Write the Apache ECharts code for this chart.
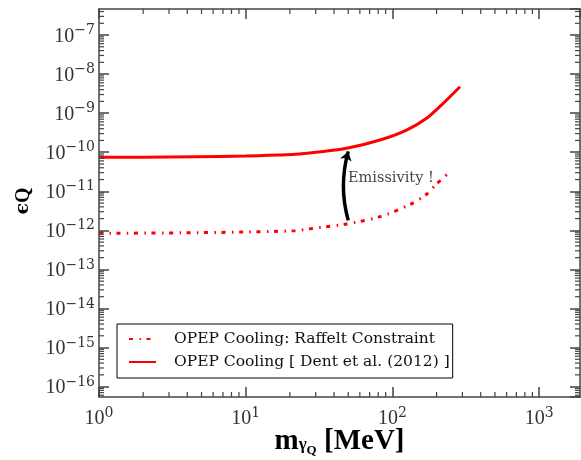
<!DOCTYPE html>
<html><head><meta charset="utf-8">
<script src="https://cdn.jsdelivr.net/npm/echarts@6/dist/echarts.min.js"></script>
<style>html,body{margin:0;padding:0;background:#fff}#c{width:581px;height:460px}</style>
</head><body><div id="c"></div>
<script>
// ---- data ----
const massDent = [1, 2, 4.5, 10, 17, 21.7, 30, 48.8, 82.3, 125, 171, 222, 289];
const epsDent = [7.4e-11, 7.45e-11, 7.7e-11, 8.0e-11, 8.5e-11, 8.85e-11, 1.0e-10, 1.26e-10, 2.06e-10, 3.7e-10, 7.4e-10, 1.79e-9, 4.75e-9];
const massRaffelt = [1, 4.5, 10, 21.7, 30, 48.8, 82.3, 132, 171, 200, 247];
const epsRaffelt = [8.4e-13, 8.7e-13, 9.1e-13, 9.8e-13, 1.15e-12, 1.46e-12, 2.24e-12, 4.6e-12, 8.4e-12, 1.54e-11, 3.17e-11];
const arrowFrom = [50, 1.8e-12];
const arrowTo = [50, 1.05e-10];
const noteMass = 49.8, noteEps = 2.15e-11, noteText = 'Emissivity !';
const xRange = [1, 1900];
const yRange = [5.42e-17, 4.64e-7];
const minorMultipliers = [2, 3, 4, 5, 6, 7, 8, 9];
const nameRaffelt = 'OPEP Cooling: Raffelt Constraint';
const nameDent = 'OPEP Cooling [ Dent et al. (2012) ]';

const SERIF = "'Liberation Serif', 'DejaVu Serif', serif";
const DSERIF = "'DejaVu Serif', serif";
const AX = '#444';

function minorValues(r) {
  const out = [];
  for (let k = Math.floor(Math.log10(r[0])); k <= Math.ceil(Math.log10(r[1])); k++) {
    minorMultipliers.forEach(m => { const v = m * Math.pow(10, k); if (v > r[0] && v < r[1]) out.push(v); });
  }
  return out;
}
function powLabel(v) {
  const e = Math.log10(v); const n = Math.round(e);
  if (Math.abs(e - n) > 1e-6) return '';
  return '{b|10}{s|' + (n < 0 ? '\u2212' + (-n) : n) + '}';
}
const labelRich = {
  b: { fontFamily: SERIF, fontSize: 20, lineHeight: 22, color: '#333', verticalAlign: 'bottom' },
  s: { fontFamily: DSERIF, fontSize: 14, color: '#333', verticalAlign: 'bottom', padding: [0, 0, 9, 0] }
};
function tickSeries(dim) {
  const vals = minorValues(dim === 'x' ? xRange : yRange);
  return {
    type: 'custom', silent: true, z: 6, clip: false, xAxisIndex: 0, yAxisIndex: 0,
    data: vals.map(v => dim === 'x' ? [v, 1e-10] : [10, v]),
    renderItem(params, api) {
      const cs = params.coordSys; const p = api.coord([api.value(0), api.value(1)]); const L = 5;
      const st = { stroke: AX, lineWidth: 1.2 };
      if (dim === 'x') {
        const x = p[0];
        return { type: 'group', children: [
          { type: 'line', shape: { x1: x, y1: cs.y + cs.height, x2: x, y2: cs.y + cs.height - L }, style: st },
          { type: 'line', shape: { x1: x, y1: cs.y, x2: x, y2: cs.y + L }, style: st }] };
      }
      const y = p[1];
      return { type: 'group', children: [
        { type: 'line', shape: { x1: cs.x, y1: y, x2: cs.x + L, y2: y }, style: st },
        { type: 'line', shape: { x1: cs.x + cs.width, y1: y, x2: cs.x + cs.width - L, y2: y }, style: st }] };
    }
  };
}
const axisCommon = {
  type: 'log', logBase: 10, nameMoveOverlap: false,
  axisLine: { show: true, lineStyle: { color: AX, width: 1.5 } },
  axisTick: { show: true, inside: true, length: 10, lineStyle: { color: AX, width: 1.5 } },
  splitLine: { show: false }, minorTick: { show: false }
};
const chart = echarts.init(document.getElementById('c'), null, { renderer: 'canvas' });
chart.setOption({
  animation: false,
  backgroundColor: '#fff',
  grid: { left: 99, right: 1, top: 9, bottom: 63, containLabel: false, outerBoundsMode: 'none' },
  xAxis: [
    Object.assign({}, axisCommon, {
      min: xRange[0], max: xRange[1], position: 'bottom',
      axisLabel: { formatter: powLabel, rich: labelRich, margin: 9, showMinLabel: true, showMaxLabel: false },
      name: '{m|m}{g|\u03b3}{q|Q}{u| [MeV]}', nameLocation: 'middle', nameGap: 30,
      nameTextStyle: { rich: {
        m: { fontFamily: SERIF, fontWeight: 'bold', fontSize: 29, lineHeight: 30, verticalAlign: 'top', padding: [0, 0, 6, 0], color: '#000' },
        g: { fontFamily: SERIF, fontWeight: 'bold', fontSize: 17, lineHeight: 16, verticalAlign: 'bottom', padding: [0, 0, 4, 0], color: '#000' },
        q: { fontFamily: SERIF, fontWeight: 'bold', fontSize: 13, lineHeight: 12, verticalAlign: 'bottom', color: '#000' },
        u: { fontFamily: SERIF, fontWeight: 'bold', fontSize: 29, lineHeight: 30, verticalAlign: 'top', padding: [0, 0, 6, 0], color: '#000' }
      } }
    }),
    Object.assign({}, axisCommon, {
      min: xRange[0], max: xRange[1], position: 'top', axisLabel: { show: false }
    })
  ],
  yAxis: [
    Object.assign({}, axisCommon, {
      min: yRange[0], max: yRange[1], position: 'left',
      axisLabel: { formatter: powLabel, rich: labelRich, margin: 4, showMinLabel: false, showMaxLabel: false },
      name: '{e|\u03f5}{q|Q}', nameLocation: 'middle', nameGap: 65, nameRotate: 90,
      nameTextStyle: { rich: {
        e: { fontFamily: DSERIF, fontWeight: 'bold', fontSize: 19, lineHeight: 18, verticalAlign: 'top', padding: [0, 0, 12, 4], color: '#000' },
        q: { fontFamily: SERIF, fontWeight: 'bold', fontSize: 20, lineHeight: 20, verticalAlign: 'bottom', color: '#000' }
      } }
    }),
    Object.assign({}, axisCommon, {
      min: yRange[0], max: yRange[1], position: 'right', axisLabel: { show: false }
    })
  ],
  legend: {
    data: [nameRaffelt, nameDent], orient: 'vertical', left: 117, top: 324,
    padding: [6, 3, 7, 11], itemWidth: 27, itemHeight: 10, itemGap: 5,
    backgroundColor: '#fff', borderColor: '#000', borderWidth: 1, borderRadius: 0,
    itemStyle: { opacity: 0 },
    textStyle: { fontFamily: DSERIF, fontSize: 15.5, lineHeight: 18, color: '#111', padding: [0, 0, 0, 13] }
  },
  series: [
    { name: nameRaffelt, type: 'line', xAxisIndex: 0, yAxisIndex: 0, symbol: 'none', smooth: 0.3, z: 3,
      data: massRaffelt.map((m, i) => [m, epsRaffelt[i]]),
      lineStyle: { color: '#ff0000', width: 3, type: [4, 6.5, 1.5, 5.5], cap: 'butt' }, itemStyle: { color: '#ff0000' } },
    { name: nameDent, type: 'line', xAxisIndex: 0, yAxisIndex: 0, symbol: 'none', smooth: 0.3, z: 3,
      data: massDent.map((m, i) => [m, epsDent[i]]),
      lineStyle: { color: '#ff0000', width: 3 }, itemStyle: { color: '#ff0000' } },
    { type: 'lines', coordinateSystem: 'cartesian2d', xAxisIndex: 0, yAxisIndex: 0, z: 4, silent: true,
      symbol: ['none', 'arrow'], symbolSize: [0, 9],
      lineStyle: { color: '#000', width: 3.5, curveness: 0.14, opacity: 1 },
      data: [{ coords: [arrowFrom, arrowTo] }] },
    { type: 'scatter', xAxisIndex: 0, yAxisIndex: 0, symbolSize: 0, silent: true, z: 5,
      data: [[noteMass, noteEps]],
      label: { show: true, position: 'right', distance: 0, formatter: noteText, fontFamily: DSERIF, fontSize: 14.5, color: '#111' } },
    tickSeries('x'),
    tickSeries('y')
  ]
});
</script></body></html>
